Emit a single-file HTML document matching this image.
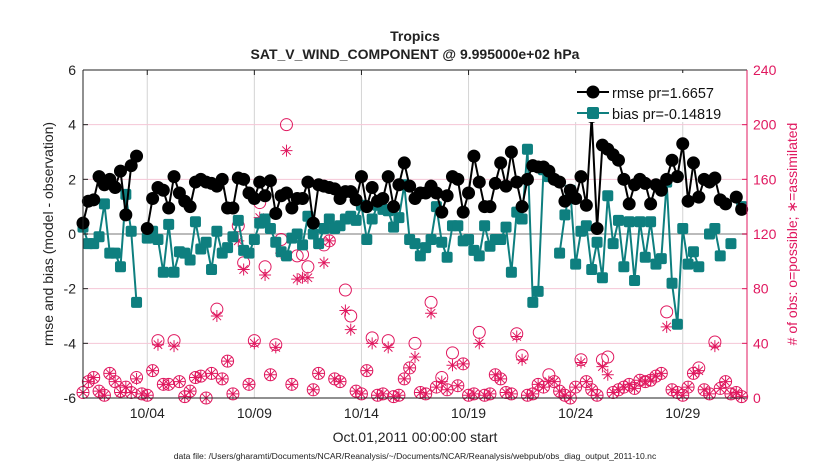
<!DOCTYPE html>
<html><head><meta charset="utf-8"><style>
html,body{margin:0;padding:0;background:#fff;width:830px;height:470px;overflow:hidden}
svg{font-family:"Liberation Sans",Arial,sans-serif}
</style></head><body>
<svg id="chart" width="830" height="470" viewBox="0 0 830 470">
<rect x="0" y="0" width="830" height="470" fill="#fff"/>
<g id="grid"></g>
<g id="marks"></g>
<g id="axes"></g>
<text x="415" y="41" text-anchor="middle" font-size="14" font-weight="bold" fill="#222">Tropics</text>
<text x="415" y="59" text-anchor="middle" font-size="14" font-weight="bold" fill="#222">SAT_V_WIND_COMPONENT @ 9.995000e+02 hPa</text>
<text transform="translate(53,234) rotate(-90)" text-anchor="middle" font-size="14" fill="#222">rmse and bias (model - observation)</text>
<text transform="translate(797,234) rotate(-90)" text-anchor="middle" font-size="14" fill="#e0185f"># of obs: o=possible; ∗=assimilated</text>
<text x="415" y="442" text-anchor="middle" font-size="14" fill="#222">Oct.01,2011 00:00:00 start</text>
<text x="415" y="459" text-anchor="middle" font-size="8.6" fill="#222">data file: /Users/gharamti/Documents/NCAR/Reanalysis/~/Documents/NCAR/Reanalysis/webpub/obs_diag_output_2011-10.nc</text>
<g id="legend">
<rect x="570" y="73" width="175" height="49" fill="#fff"/>
<line x1="577" y1="92" x2="609" y2="92" stroke="#000" stroke-width="2"/>
<circle cx="593" cy="92" r="6.5" fill="#000"/>
<text x="612" y="98" font-size="14.5" fill="#111">rmse pr=1.6657</text>
<line x1="577" y1="113" x2="609" y2="113" stroke="#0e7f7f" stroke-width="2"/>
<rect x="587" y="107" width="12" height="12" rx="2" fill="#0e7f7f"/>
<text x="612" y="119" font-size="14.5" fill="#111">bias pr=-0.14819</text>
</g>
</svg>
<script>
const rmse=[0.4,1.2,1.25,2.1,1.8,2.0,1.7,2.3,0.7,2.5,2.85,null,0.2,1.3,1.7,1.6,0.95,2.1,1.5,1.2,1.0,1.9,2.0,1.9,1.85,1.75,2.0,0.95,0.95,2.05,2.0,1.5,1.3,1.9,1.4,1.95,0.75,1.4,1.5,0.95,1.3,
1.3,1.9,0.4,1.8,1.75,1.7,1.65,1.3,1.55,1.55,1.25,2.1,1.0,1.7,1.2,1.3,2.1,1.0,1.8,2.6,1.75,1.3,1.5,1.5,1.75,1.5,0.8,1.4,2.1,2.0,0.8,1.5,2.85,1.9,1.0,1.0,1.85,2.6,1.75,3.0,1.9,1.0,2.0,
2.5,2.45,2.45,2.3,2.0,1.9,1.2,1.6,1.3,2.1,1.05,4.3,0.2,3.25,3.1,2.9,2.7,2.0,1.1,1.8,2.0,1.85,1.1,1.8,1.6,2.0,2.7,2.1,3.3,1.2,2.6,1.35,2.0,1.9,2.05,1.25,1.1,null,1.35,0.9];
const bias=[0.25,-0.35,-0.35,-0.1,1.1,-0.7,-0.7,-1.2,1.45,0.1,-2.5,null,-0.15,0.1,-0.2,-1.4,0.35,-1.4,-0.65,-0.7,-0.95,0.45,-0.55,-0.3,-1.3,0.1,-0.7,-0.5,-0.1,0.5,-0.6,-0.7,-0.2,0.4,0.55,0.2,-0.3,-0.65,-0.8,-0.15,0.0,
-0.4,0.65,0.0,-0.35,0.2,0.55,0.2,0.3,0.55,0.65,0.5,1.05,-0.2,0.55,1.05,0.9,0.85,0.25,0.6,1.8,-0.2,-0.35,-0.8,-0.5,-0.2,1.0,-0.3,-0.85,0.3,0.3,-0.25,-0.2,-0.6,-0.8,0.3,-0.45,-0.2,-0.2,0.25,-1.4,0.8,0.55,3.1,
-2.5,-2.1,2.35,2.1,null,-0.7,0.7,1.6,-1.1,0.1,0.3,-1.3,-0.3,-1.6,1.4,-0.35,0.5,-1.2,0.45,-1.7,0.45,-0.85,0.45,-1.1,-0.9,1.9,-1.8,-3.3,0.2,-1.1,-0.65,-1.2,null,0.0,0.2,-0.8,null,-0.35,null,1.0];
const possible=[4,12,15,5,2,18,12,5,8,4,15,3,2,20,42,10,10,42,12,1,5,15,16,0,18,65,14,27,3,126,99,10,42,143,96,17,39,116,200,10,104,
105,96,6,18,112,115,14,12,79,60,5,3,20,44,2,3,42,1,2,14,22,40,4,3,70,8,15,6,33,9,25,2,3,48,2,3,17,14,4,3,47,31,2,
3,10,8,17,12,5,2,0,8,28,12,6,2,28,30,4,6,8,10,7,13,12,13,16,18,63,6,4,2,8,18,22,6,3,41,7,12,3,4,1];
const assimilated=[4,12,15,5,2,18,12,4,8,4,14,3,2,20,39,10,10,38,12,1,5,15,16,0,18,60,14,27,3,115,94,10,40,132,90,17,37,106,181,10,87,
88,88,6,18,99,115,14,12,64,50,5,3,20,40,2,3,37,1,2,14,22,30,4,3,62,8,12,6,24,9,25,2,3,40,2,3,17,14,4,3,45,28,2,
3,10,8,12,12,5,2,0,8,26,12,6,2,23,17,4,6,8,10,7,13,12,13,16,18,52,6,4,2,8,18,20,6,3,38,7,12,3,4,1];
const dayTicks=[3,8,13,18,23,28];
const dayLabels=['10/04','10/09','10/14','10/19','10/24','10/29'];
const leftTicks=[-6,-4,-2,0,2,4,6];
const rightTicks=[0,40,80,120,160,200,240];

const NS='http://www.w3.org/2000/svg';
const X0=83,X1=747,Y0=70,Y1=398;
const xDay=d=>X0+(d/31)*(X1-X0);
const yL=v=>Y1-(v+6)/12*(Y1-Y0);
const yR=v=>Y1-v/240*(Y1-Y0);
const dayOf=i=>i*0.25;
function mk(tag,attrs,parent){const e=document.createElementNS(NS,tag);for(const k in attrs)e.setAttribute(k,attrs[k]);parent.appendChild(e);return e;}
const grid=document.getElementById('grid'),marks=document.getElementById('marks'),axes=document.getElementById('axes');

dayTicks.forEach((d,i)=>{
  const l=mk('line',{x1:xDay(d),x2:xDay(d),y1:Y0,y2:Y1,stroke:'#d4d4d4','stroke-width':1},grid);
  
  
  const t=mk('line',{x1:xDay(d),x2:xDay(d),y1:Y0,y2:Y0+5,stroke:'#222'},axes);
  
  
  const tx=mk('text',{x:xDay(d),y:418,'text-anchor':'middle','font-size':14,fill:'#222'},axes);
  tx.textContent=dayLabels[i];
  
  
});
leftTicks.forEach(v=>{
  if(v!==-6&&v!==6&&v!==0){
    const g=mk('line',{x1:X0,x2:X1,y1:yL(v),y2:yL(v),stroke:'#f4c6d6','stroke-width':1},grid);
    
    
  }
  const tx=mk('text',{x:X0-7,y:yL(v)+5,'text-anchor':'end','font-size':14,fill:'#222'},axes);
  tx.textContent=v;
  
  
  const t=mk('line',{x1:X0,x2:X0+5,y1:yL(v),y2:yL(v),stroke:'#222'},axes);
  
  
});
rightTicks.forEach(v=>{
  const tx=mk('text',{x:X1+6,y:yR(v)+5,'font-size':14,fill:'#e0185f'},axes);
  tx.textContent=v;
  
  
  const t=mk('line',{x1:X1-5,x2:X1,y1:yR(v),y2:yR(v),stroke:'#e0185f'},axes);
  
  
});
const zl=mk('line',{x1:X0,x2:X1,y1:yL(0),y2:yL(0),stroke:'#bbb','stroke-width':2},grid);



possible.forEach((v,i)=>{
  const c=mk('circle',{cx:xDay(dayOf(i)),cy:yR(v),r:6,fill:'none',stroke:'#e0185f','stroke-width':1},marks);
  
  
});
assimilated.forEach((v,i)=>{
  const x=xDay(dayOf(i)),y=yR(v),s=6;
  const d=`M${x-s},${y}H${x+s}M${x},${y-s}V${y+s}M${x-s*0.7},${y-s*0.7}L${x+s*0.7},${y+s*0.7}M${x-s*0.7},${y+s*0.7}L${x+s*0.7},${y-s*0.7}`;
  const p=mk('path',{d:d,stroke:'#e0185f','stroke-width':1,fill:'none'},marks);
  
  
});
function linePath(arr){let d='',pen=false;arr.forEach((v,i)=>{if(v===null){pen=false;return;}d+=(pen?'L':'M')+xDay(dayOf(i)).toFixed(1)+','+yL(v).toFixed(1);pen=true;});return d;}
const bl=mk('path',{d:linePath(bias),stroke:'#0e7f7f','stroke-width':2,fill:'none'},marks);


bias.forEach((v,i)=>{if(v===null)return;
  const r=mk('rect',{x:xDay(dayOf(i))-5.5,y:yL(v)-5.5,width:11,height:11,rx:2,fill:'#0e7f7f'},marks);
  
  
});
const rl=mk('path',{d:linePath(rmse),stroke:'#000','stroke-width':2,fill:'none'},marks);


rmse.forEach((v,i)=>{if(v===null)return;
  const c=mk('circle',{cx:xDay(dayOf(i)),cy:yL(v),r:6.5,fill:'#000'},marks);
  
  
});
const f1=mk('path',{d:`M${X0},${Y0}H${X1}M${X0},${Y0}V${Y1}M${X0},${Y1}H${X1}`,stroke:'#222',fill:'none','stroke-width':1},axes);


const f2=mk('line',{x1:X1,x2:X1,y1:Y0,y2:Y1,stroke:'#e0185f','stroke-width':1},axes);


</script>
</body></html>
